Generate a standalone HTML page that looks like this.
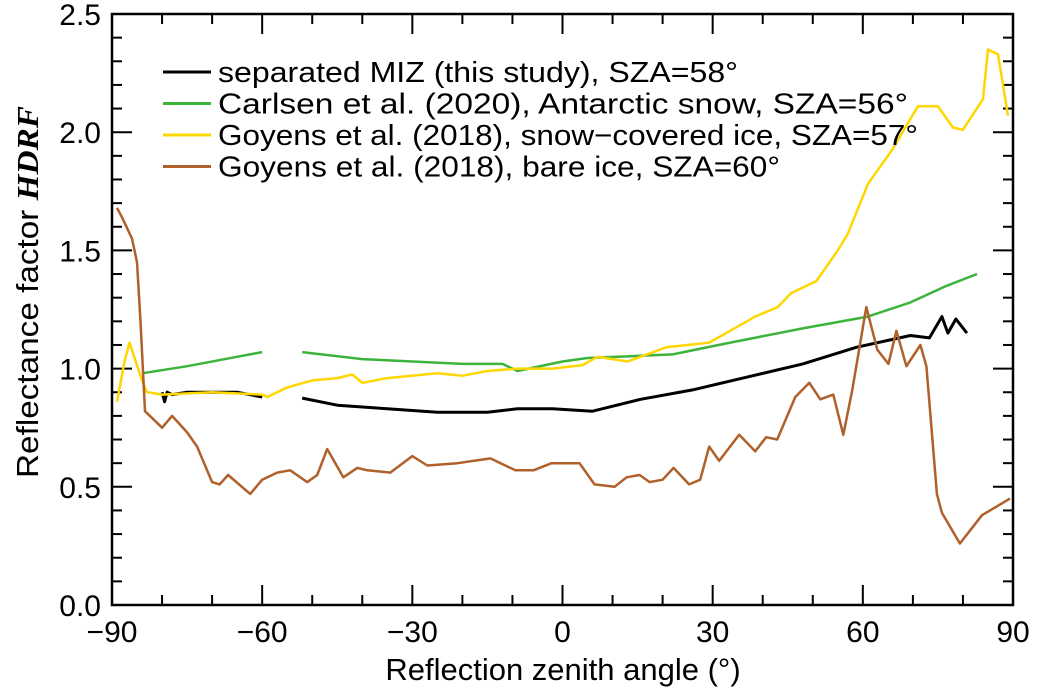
<!DOCTYPE html>
<html><head><meta charset="utf-8"><style>
html,body{margin:0;padding:0;background:#fff;}
svg text{font-family:"Liberation Sans",sans-serif;fill:#000;}
</style></head><body>
<svg id="chart" width="1042" height="693" viewBox="0 0 1042 693" xmlns="http://www.w3.org/2000/svg">
<g id="axes"></g>
<g id="series"></g>
<g id="legend"></g>
</svg>
<script>
const xTicks=[-90,-60,-30,0,30,60,90];
const yTicks=[0.0,0.5,1.0,1.5,2.0,2.5];
const yTickLabels=["0.0","0.5","1.0","1.5","2.0","2.5"];
const blackX=[-80,-79.5,-79,-78,-75,-70,-65,-60,null,-52,-45,-35,-25,-15,-9,-2,6,15.6,26,37,48,58.7,69.5,73.3,75.8,77,78.6,80.8];
const blackY=[0.9,0.86,0.9,0.89,0.9,0.9,0.9,0.88,null,0.875,0.845,0.83,0.815,0.815,0.83,0.83,0.82,0.87,0.91,0.965,1.02,1.09,1.14,1.13,1.22,1.15,1.21,1.15];
const greenX=[-84,-75,-65,-60,null,-52,-40,-20,-12,-9,0,5,22,33.5,48,61,69.5,76.7,82.8];
const greenY=[0.98,1.01,1.05,1.07,null,1.07,1.04,1.02,1.02,0.99,1.03,1.045,1.06,1.11,1.17,1.22,1.28,1.35,1.40];
const yellowX=[-89,-87.5,-86.5,-84,-83,-80,-70,-60,-59,-55,-50,-45,-42,-40,-35,-25,-20,-15,-9,-2,4,7,13,20.7,29.3,33.5,38.5,43,45.7,50.7,55,57,61,66,71,75,78,80,84,85,87,89];
const yellowY=[0.86,1.03,1.11,0.95,0.9,0.89,0.9,0.89,0.88,0.92,0.95,0.96,0.975,0.94,0.96,0.98,0.97,0.99,1.0,1.0,1.015,1.05,1.03,1.09,1.11,1.16,1.22,1.26,1.32,1.37,1.5,1.57,1.78,1.93,2.11,2.11,2.02,2.01,2.14,2.35,2.33,2.07];
const brownX=[-89,-88,-86,-85,-84.3,-83.4,-80,-78,-75,-73,-70,-68.5,-66.8,-62.4,-60,-57,-54.4,-51,-49,-47,-43.8,-41,-39,-34.4,-30,-27,-21,-14.4,-9.4,-5.8,-2.2,3.4,6.4,10.4,12.8,15.4,17.4,20,22.2,25.3,27.5,29.3,31.3,35.3,38.5,40.7,42.9,46.5,49.3,51.5,54.1,56.1,57.9,60.7,62.9,65.1,66.7,68.7,71.5,72.7,74.8,75.8,79.4,83.8,89.4];
const brownY=[1.68,1.64,1.55,1.45,1.2,0.82,0.75,0.8,0.73,0.67,0.52,0.51,0.55,0.47,0.53,0.56,0.57,0.52,0.55,0.66,0.54,0.58,0.57,0.56,0.63,0.59,0.6,0.62,0.57,0.57,0.6,0.6,0.51,0.5,0.54,0.55,0.52,0.53,0.58,0.51,0.53,0.67,0.61,0.72,0.65,0.71,0.7,0.88,0.94,0.87,0.89,0.72,0.91,1.26,1.08,1.02,1.16,1.01,1.10,1.01,0.47,0.39,0.26,0.38,0.45];
const legendLabels=["separated MIZ (this study), SZA=58°","Carlsen et al. (2020), Antarctic snow, SZA=56°","Goyens et al. (2018), snow\u2212covered ice, SZA=57°","Goyens et al. (2018), bare ice, SZA=60°"];
const colors=["#000000","#3cb43c","#ffd700","#b0602a"];
const legendWidths=[520,690,700,562];

const X0=112,X1=1013,YB=605,YT=14;
const xs=v=>X0+(v+90)/180*(X1-X0);
const ys=v=>YB-(v/2.5)*(YB-YT);
const NS="http://www.w3.org/2000/svg";
function mk(t,p,a){const e=document.createElementNS(NS,t);for(const k in a)e.setAttribute(k,a[k]);p.appendChild(e);return e;}
const ax=document.getElementById('axes');
const frame=mk('rect',ax,{x:X0,y:YT,width:X1-X0,height:YB-YT,fill:'none',stroke:'#000','stroke-width':2.5});


for(let v=-90;v<=90;v+=10){const major=v%30===0;const L=major?20:10;
 mk('line',ax,{x1:xs(v),x2:xs(v),y1:YB,y2:YB-L,stroke:'#000','stroke-width':2});
 mk('line',ax,{x1:xs(v),x2:xs(v),y1:YT,y2:YT+L,stroke:'#000','stroke-width':2});}
for(let i=0;i<=25;i++){const v=i/10;const major=i%5===0;const L=major?20:10;
 mk('line',ax,{x1:X0,x2:X0+L,y1:ys(v),y2:ys(v),stroke:'#000','stroke-width':2});
 mk('line',ax,{x1:X1,x2:X1-L,y1:ys(v),y2:ys(v),stroke:'#000','stroke-width':2});}
xTicks.forEach(v=>{const t=mk('text',ax,{x:xs(v),y:642,'font-size':30,'text-anchor':'middle'});t.textContent=(v<0?'\u2212':'')+Math.abs(v);
 
 });
yTicks.forEach((v,i)=>{const t=mk('text',ax,{x:101,y:ys(v)+11,'font-size':30,'text-anchor':'end'});t.textContent=yTickLabels[i];
 
 });
const xt=mk('text',ax,{x:563,y:680,'font-size':31,'text-anchor':'middle'});xt.textContent='Reflection zenith angle (°)';


const yt=mk('text',ax,{x:0,y:0,'font-size':31,'text-anchor':'middle',transform:'translate(38,292) rotate(-90)',textLength:372,lengthAdjust:'spacingAndGlyphs'});
yt.innerHTML='Reflectance factor <tspan font-family="Liberation Serif" font-style="italic" font-weight="bold">HDRF</tspan>';



const sg=document.getElementById('series');
const sets=[[blackX,blackY,'series-separated-miz'],[greenX,greenY,'series-carlsen-snow'],[yellowX,yellowY,'series-goyens-snow-ice'],[brownX,brownY,'series-goyens-bare-ice']];
sets.forEach((s,k)=>{let d='',pen=false;
 s[0].forEach((x,i)=>{if(x===null){pen=false;return;}d+=(pen?'L':'M')+xs(x).toFixed(1)+','+ys(s[1][i]).toFixed(1);pen=true;});
 const p=mk('path',sg,{d:d,fill:'none',stroke:colors[k],'stroke-width':k===0?3:2.5,'stroke-linejoin':'round'});
 
 });

const lg=document.getElementById('legend');
legendLabels.forEach((l,i)=>{const y=72+i*31.5;
 const g=mk('g',lg,{});
 
 
 mk('line',g,{x1:163,x2:211,y1:y,y2:y,stroke:colors[i],'stroke-width':3});
 const t=mk('text',g,{x:218,y:y+10,'font-size':29,textLength:legendWidths[i],lengthAdjust:'spacingAndGlyphs'});t.textContent=l;});
</script>
</body></html>
